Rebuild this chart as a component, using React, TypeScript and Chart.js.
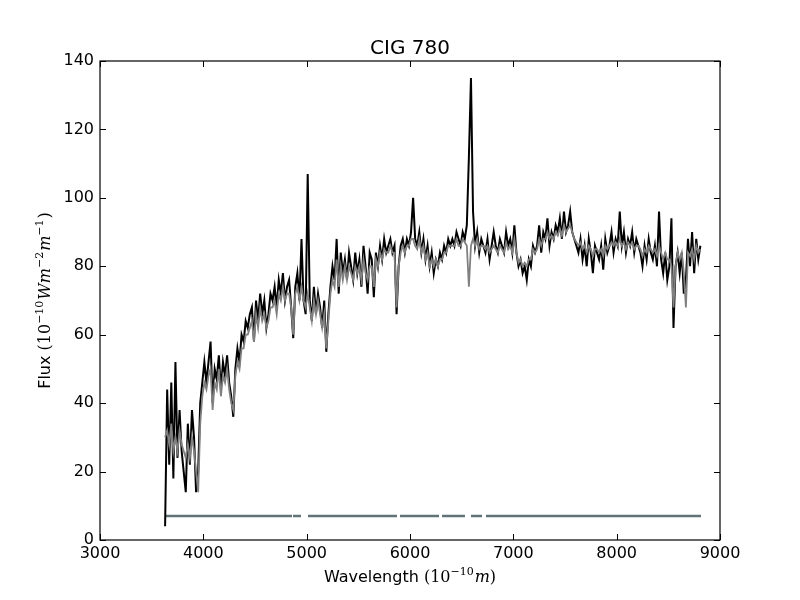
import { useEffect, useRef } from 'react';
import Chart, { type Plugin } from 'chart.js/auto';

// spectrum sampled on a regular wavelength grid (Angstrom)
const WAVE_START = 3630;
const WAVE_STEP = 20;

// observed flux, one row per 200 A
const FLUX_OBSERVED: number[] = [
  4, 44, 22, 46, 18, 52, 24, 38, 26, 20,
  14, 34, 22, 38, 30, 14, 20, 40, 46, 52,
  46, 52, 58, 40, 50, 47, 54, 44, 52, 48,
  54, 46, 42, 36, 50, 56, 52, 60, 58, 64,
  62, 66, 68, 58, 70, 64, 72, 66, 70, 62,
  66, 72, 70, 74, 68, 76, 72, 78, 70, 74,
  76, 68, 59, 74, 78, 70, 88, 70, 66, 107,
  70, 64, 74, 66, 72, 68, 62, 70, 55, 66,
  74, 80, 76, 88, 72, 84, 78, 82, 76, 84,
  80, 76, 84, 78, 82, 74, 86, 80, 72, 84,
  82, 71, 84, 80, 86, 82, 88, 84, 86, 88,
  84, 86, 66, 80, 86, 88, 84, 88, 86, 90,
  100, 88, 86, 90, 84, 88, 82, 86, 80, 84,
  78, 82, 80, 84, 82, 86, 84, 88, 86, 88,
  86, 90, 88, 86, 90, 88, 92, 112, 135, 96,
  86, 90, 84, 88, 86, 84, 88, 82, 86, 90,
  86, 84, 88, 86, 84, 90, 86, 88, 84, 92,
  84, 80, 82, 78, 80, 76, 82, 80, 86, 84,
  86, 92, 84, 90, 88, 94, 86, 90, 88, 92,
  90, 94, 88, 96, 90, 92, 96, 90, 88, 86,
  84, 88, 82, 86, 80, 88, 84, 78, 86, 84,
  82, 86, 79, 88, 84, 86, 90, 84, 88, 86,
  96, 86, 90, 84, 88, 86, 90, 84, 88, 86,
  84, 80, 86, 82, 88, 84, 82, 86, 80, 96,
  82, 78, 84, 76, 80, 94, 62, 80, 84, 78,
  84, 72, 76, 88, 80, 90, 78, 88, 82, 86,
];

// synthetic (fitted) flux on the same grid
const FLUX_MODEL: number[] = [
  30, 32, 28, 34, 26, 30, 26, 32, 28, 26,
  24, 28, 24, 30, 26, 20, 14, 34, 42, 46,
  44, 48, 50, 38, 46, 44, 50, 42, 48, 46,
  50, 44, 40, 38, 48, 52, 50, 56, 56, 60,
  60, 62, 64, 58, 66, 62, 68, 64, 66, 62,
  64, 68, 68, 70, 66, 72, 70, 74, 70, 72,
  72, 68, 60, 72, 74, 70, 74, 70, 68, 72,
  68, 64, 70, 66, 70, 66, 62, 66, 56, 64,
  72, 76, 74, 82, 74, 80, 76, 80, 76, 80,
  78, 76, 80, 78, 80, 76, 82, 78, 76, 80,
  80, 74, 82, 80, 84, 82, 85, 84, 84, 86,
  84, 84, 68, 80, 84, 86, 84, 86, 86, 88,
  88, 86, 85, 88, 84, 86, 82, 84, 80, 82,
  80, 82, 80, 82, 82, 84, 84, 86, 86, 86,
  86, 88, 86, 86, 88, 87, 86, 74, 86, 88,
  86, 88, 85, 86, 86, 85, 86, 84, 85, 86,
  85, 84, 86, 85, 84, 87, 85, 86, 84, 88,
  84, 81, 82, 80, 81, 80, 82, 82, 85, 84,
  85, 88, 86, 88, 88, 90, 88, 89, 88, 90,
  89, 91, 89, 92, 90, 91, 92, 90, 88, 87,
  86, 87, 85, 86, 84, 86, 85, 83, 85, 85,
  84, 85, 83, 86, 85, 86, 87, 86, 87, 86,
  88, 86, 87, 85, 87, 86, 87, 85, 86, 86,
  85, 83, 85, 84, 86, 85, 84, 85, 83, 86,
  84, 82, 84, 82, 82, 80, 68, 80, 84, 82,
  84, 78, 68, 84, 83, 85, 82, 86, 84, 85,
];

// wavelength ranges used in the fit (the masked lines are the gaps)
const MASK_RANGES: [number, number][] = [
  [3629, 4858], [4868, 4945], [5013, 5874], [5903, 6281],
  [6310, 6532], [6590, 6697], [6735, 8816],
];
const MASK_LEVEL = 7;

const X_MIN = 3000, X_MAX = 9000, X_STEP = 1000;
const Y_MIN = 0, Y_MAX = 140, Y_STEP = 20;

const TITLE = 'CIG 780';

// axis labels as runs: [text, style] where style is 'sans' | 'rm' | 'it' | 'sup'
type Run = [string, 'sans' | 'rm' | 'it' | 'sup'];
const X_LABEL: Run[] = [['Wavelength ', 'sans'], ['(10', 'rm'], ['−10', 'sup'], ['m', 'it'], [')', 'rm']];
const Y_LABEL: Run[] = [
  ['Flux ', 'sans'], ['(10', 'rm'], ['−10', 'sup'], ['Wm', 'it'], ['−2', 'sup'],
  ['m', 'it'], ['−1', 'sup'], [')', 'rm'],
];

const FONT = 'DejaVu Sans';
const SERIF = 'DejaVu Serif';

function runFont(style: Run[1]): string {
  if (style === 'sans') return `16px "${FONT}"`;
  if (style === 'it') return `italic 16px "${SERIF}"`;
  if (style === 'sup') return `11px "${SERIF}"`;
  return `16px "${SERIF}"`;
}

// draw a run list centred on (0,0) of the current transform
function drawRuns(ctx: CanvasRenderingContext2D, runs: Run[]) {
  let total = 0;
  const widths = runs.map(([t, s]) => {
    ctx.font = runFont(s);
    const w = ctx.measureText(t).width + (s === 'sup' ? 1 : 0);
    total += w;
    return w;
  });
  let x = -total / 2;
  runs.forEach(([t, s], i) => {
    ctx.font = runFont(s);
    ctx.fillText(t, x, s === 'sup' ? -1 : 6);
    x += widths[i];
  });
}

// matplotlib-like frame: box all round, inward ticks on every side, title and axis labels
const framePlugin: Plugin<'line'> = {
  id: 'frame',
  afterDraw(chart) {
    const { ctx, chartArea: a, scales } = chart;
    const len = 6;
    ctx.save();
    ctx.strokeStyle = '#000';
    ctx.lineWidth = 1;
    ctx.beginPath();
    for (const t of scales.x.ticks) {
      const px = Math.round(scales.x.getPixelForValue(t.value)) + 0.5;
      ctx.moveTo(px, a.bottom); ctx.lineTo(px, a.bottom - len);
      ctx.moveTo(px, a.top); ctx.lineTo(px, a.top + len);
    }
    for (const t of scales.y.ticks) {
      const py = Math.round(scales.y.getPixelForValue(t.value)) + 0.5;
      ctx.moveTo(a.left, py); ctx.lineTo(a.left + len, py);
      ctx.moveTo(a.right, py); ctx.lineTo(a.right - len, py);
    }
    ctx.stroke();
    ctx.lineWidth = 1.2;
    ctx.strokeRect(a.left, a.top, a.right - a.left, a.bottom - a.top);

    ctx.fillStyle = '#000';
    ctx.textAlign = 'left';
    ctx.textBaseline = 'alphabetic';
    ctx.font = `20px "${FONT}"`;
    const tw = ctx.measureText(TITLE).width;
    ctx.fillText(TITLE, (a.left + a.right) / 2 - tw / 2, a.top - 7);

    ctx.save();
    ctx.translate((a.left + a.right) / 2, a.bottom + 36);
    drawRuns(ctx, X_LABEL);
    ctx.restore();

    ctx.save();
    ctx.translate(a.left - 56, (a.top + a.bottom) / 2);
    ctx.rotate(-Math.PI / 2);
    drawRuns(ctx, Y_LABEL);
    ctx.restore();
    ctx.restore();
  },
};

export default function App() {
  const canvasRef = useRef<HTMLCanvasElement>(null);

  useEffect(() => {
    if (!canvasRef.current) return;

    const observed = FLUX_OBSERVED.map((y, i) => ({ x: WAVE_START + i * WAVE_STEP, y }));
    const model = FLUX_MODEL.map((y, i) => ({ x: WAVE_START + i * WAVE_STEP, y }));
    const mask: { x: number; y: number | null }[] = [];
    MASK_RANGES.forEach(([a, b]) => {
      mask.push({ x: a, y: MASK_LEVEL }, { x: b, y: MASK_LEVEL }, { x: b, y: null });
    });

    const chart = new Chart(canvasRef.current, {
      type: 'line',
      data: {
        datasets: [
          { data: observed, borderColor: '#000000', borderWidth: 2, pointRadius: 0, order: 2 },
          { data: model, borderColor: '#808080', borderWidth: 1.8, pointRadius: 0, order: 1 },
          { data: mask as any, borderColor: '#627378', borderWidth: 2.5, pointRadius: 0, spanGaps: false, order: 3 },
        ],
      },
      options: {
        animation: false,
        responsive: false,
        devicePixelRatio: 1,
        layout: { padding: { top: 61, right: 80, left: 0, bottom: 0 } },
        plugins: {
          legend: { display: false },
          tooltip: { enabled: false },
          title: { display: false },
        },
        scales: {
          x: {
            type: 'linear',
            min: X_MIN,
            max: X_MAX,
            afterFit: (s) => { s.height = 60; },
            grid: { display: false, drawTicks: false },
            border: { display: false },
            ticks: {
              stepSize: X_STEP,
              color: '#000',
              padding: 4,
              maxRotation: 0,
              font: { family: FONT, size: 16 },
              callback: (v) => String(v),
            },
          },
          y: {
            type: 'linear',
            min: Y_MIN,
            max: Y_MAX,
            afterFit: (s) => { s.width = 100; },
            grid: { display: false, drawTicks: false },
            border: { display: false },
            ticks: {
              stepSize: Y_STEP,
              color: '#000',
              padding: 6,
              font: { family: FONT, size: 16 },
              callback: (v) => String(v),
            },
          },
        },
      },
      plugins: [framePlugin],
    });

    return () => chart.destroy();
  }, []);

  return (
    <div style={{ position: 'fixed', left: 0, top: 0, width: 800, height: 600, background: '#fff' }}>
      <canvas ref={canvasRef} width={800} height={600} />
    </div>
  );
}
